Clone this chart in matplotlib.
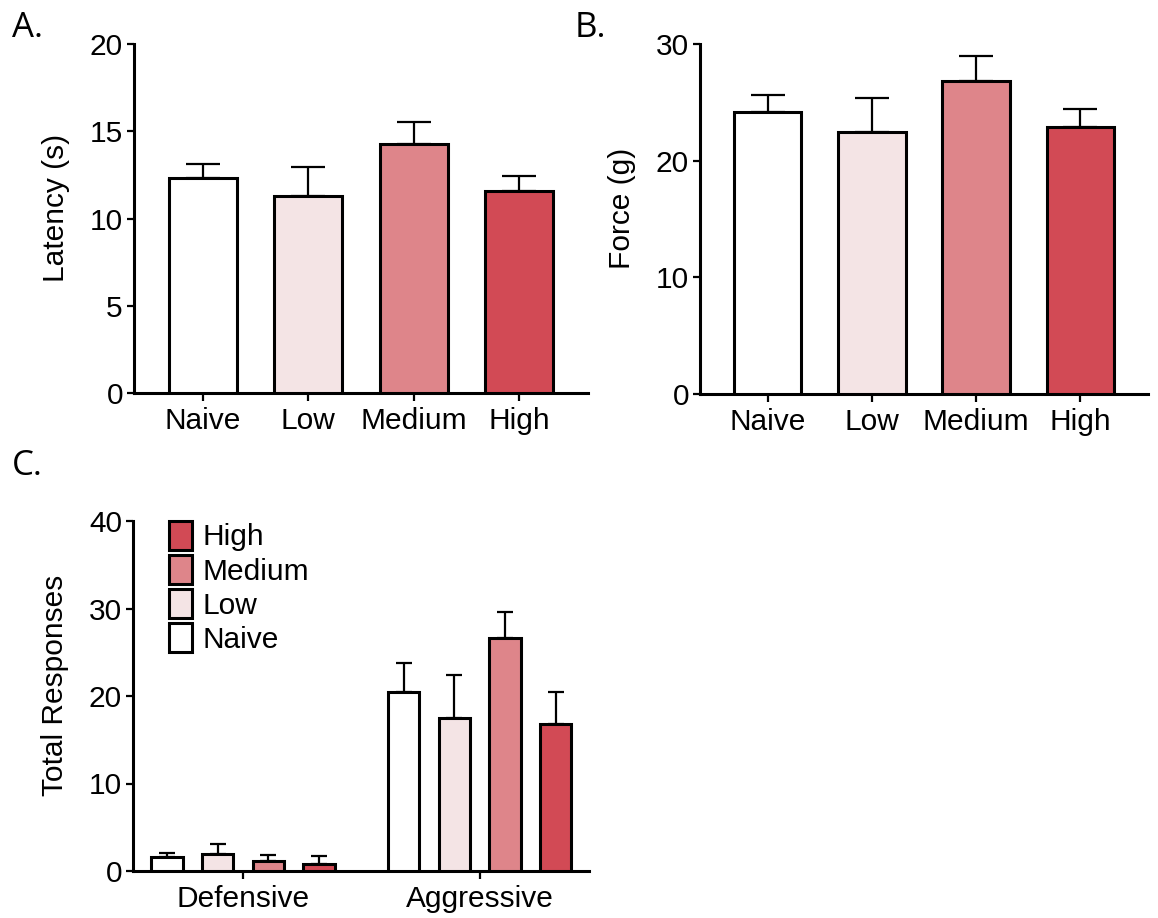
import numpy as np
import matplotlib
matplotlib.use('Agg')
import matplotlib.pyplot as plt

plt.rcParams['font.family'] = ['Liberation Sans', 'DejaVu Sans']

groups = ['Naive', 'Low', 'Medium', 'High']
colors = ['#FFFFFF', '#F4E4E5', '#DE858A', '#D24A55']

latency = [12.3, 11.3, 14.25, 11.55]
latency_err = [0.85, 1.65, 1.3, 0.9]

force = [24.2, 22.5, 26.8, 22.9]
force_err = [1.4, 2.9, 2.2, 1.5]

resp_types = ['Defensive', 'Aggressive']
defensive = [1.65, 2.0, 1.2, 0.85]
defensive_err = [0.4, 1.1, 0.6, 0.85]
aggressive = [20.5, 17.45, 26.6, 16.8]
aggressive_err = [3.25, 4.9, 3.0, 3.65]

FS = 21.5
LW = 2.2


def style_axes(ax):
    for s in ['top', 'right']:
        ax.spines[s].set_visible(False)
    for s in ['left', 'bottom']:
        ax.spines[s].set_linewidth(LW)
    ax.tick_params(axis='y', length=5, width=1.6, pad=3, labelsize=FS)
    ax.tick_params(axis='x', length=6, width=1.6, pad=4, labelsize=FS)


def bar_panel(ax, vals, errs, ymax, ystep, ylabel):
    x = np.arange(len(groups))
    ax.bar(x, vals, width=0.645, color=colors, edgecolor='black',
           linewidth=LW, zorder=3)
    ax.errorbar(x, vals, yerr=[np.zeros(len(vals)), errs], fmt='none',
                ecolor='black', elinewidth=1.6, capsize=12.5, capthick=1.6,
                zorder=2)
    ax.set_xlim(-0.65, len(groups) - 0.35)
    ax.set_ylim(0, ymax)
    ax.set_yticks(np.arange(0, ymax + 1, ystep))
    ax.set_xticks(x)
    ax.set_xticklabels(groups)
    ax.set_ylabel(ylabel, fontsize=FS, labelpad=14)
    style_axes(ax)


fig = plt.figure(figsize=(11.58, 9.18), dpi=100)

axA = fig.add_axes([134 / 1158, 1 - 393 / 918, 454 / 1158, 349 / 918])
bar_panel(axA, latency, latency_err, 20, 5, 'Latency (s)')
axA.yaxis.label.set_y(0.53)

axB = fig.add_axes([700 / 1158, 1 - 394 / 918, 448 / 1158, 350 / 918])
bar_panel(axB, force, force_err, 30, 10, 'Force (g)')
axB.yaxis.label.set_y(0.53)

# panel C: grouped bars
axC = fig.add_axes([133 / 1158, 1 - 871 / 918, 456 / 1158, 350 / 918])
offsets = np.arange(len(groups))
centers = [0.0, 4.67]
for i, g in enumerate(groups):
    xs = [centers[0] + offsets[i], centers[1] + offsets[i]]
    vals = [defensive[i], aggressive[i]]
    errs = [defensive_err[i], aggressive_err[i]]
    axC.bar(xs, vals, width=0.62, color=colors[i], edgecolor='black',
            linewidth=LW, zorder=3, label=g)
    axC.errorbar(xs, vals, yerr=[[0, 0], errs], fmt='none', ecolor='black',
                 elinewidth=1.6, capsize=6, capthick=1.6, zorder=2)
axC.set_xlim(-0.67, 8.33)
axC.set_ylim(0, 40)
axC.set_yticks([0, 10, 20, 30, 40])
axC.set_xticks([c + 1.5 for c in centers])
axC.set_xticklabels(resp_types)
axC.set_ylabel('Total Responses', fontsize=FS, labelpad=14)
axC.yaxis.label.set_y(0.53)
style_axes(axC)

handles, labels = axC.get_legend_handles_labels()
leg = axC.legend(handles[::-1], labels[::-1], loc='upper left',
                 bbox_to_anchor=(36 / 456, 1.0), frameon=False, fontsize=FS,
                 borderaxespad=0, borderpad=0, handlelength=0.78,
                 handleheight=1.1, handletextpad=0.35, labelspacing=0.12)

for lbl, (x, y) in zip(['A.', 'B.', 'C.'], [(12, 11), (575, 11), (12, 449)]):
    fig.text(x / 1158, 1 - y / 918, lbl, fontsize=25, family='Open Sans',
             ha='left', va='top')

fig.savefig('out.png', dpi=100)
